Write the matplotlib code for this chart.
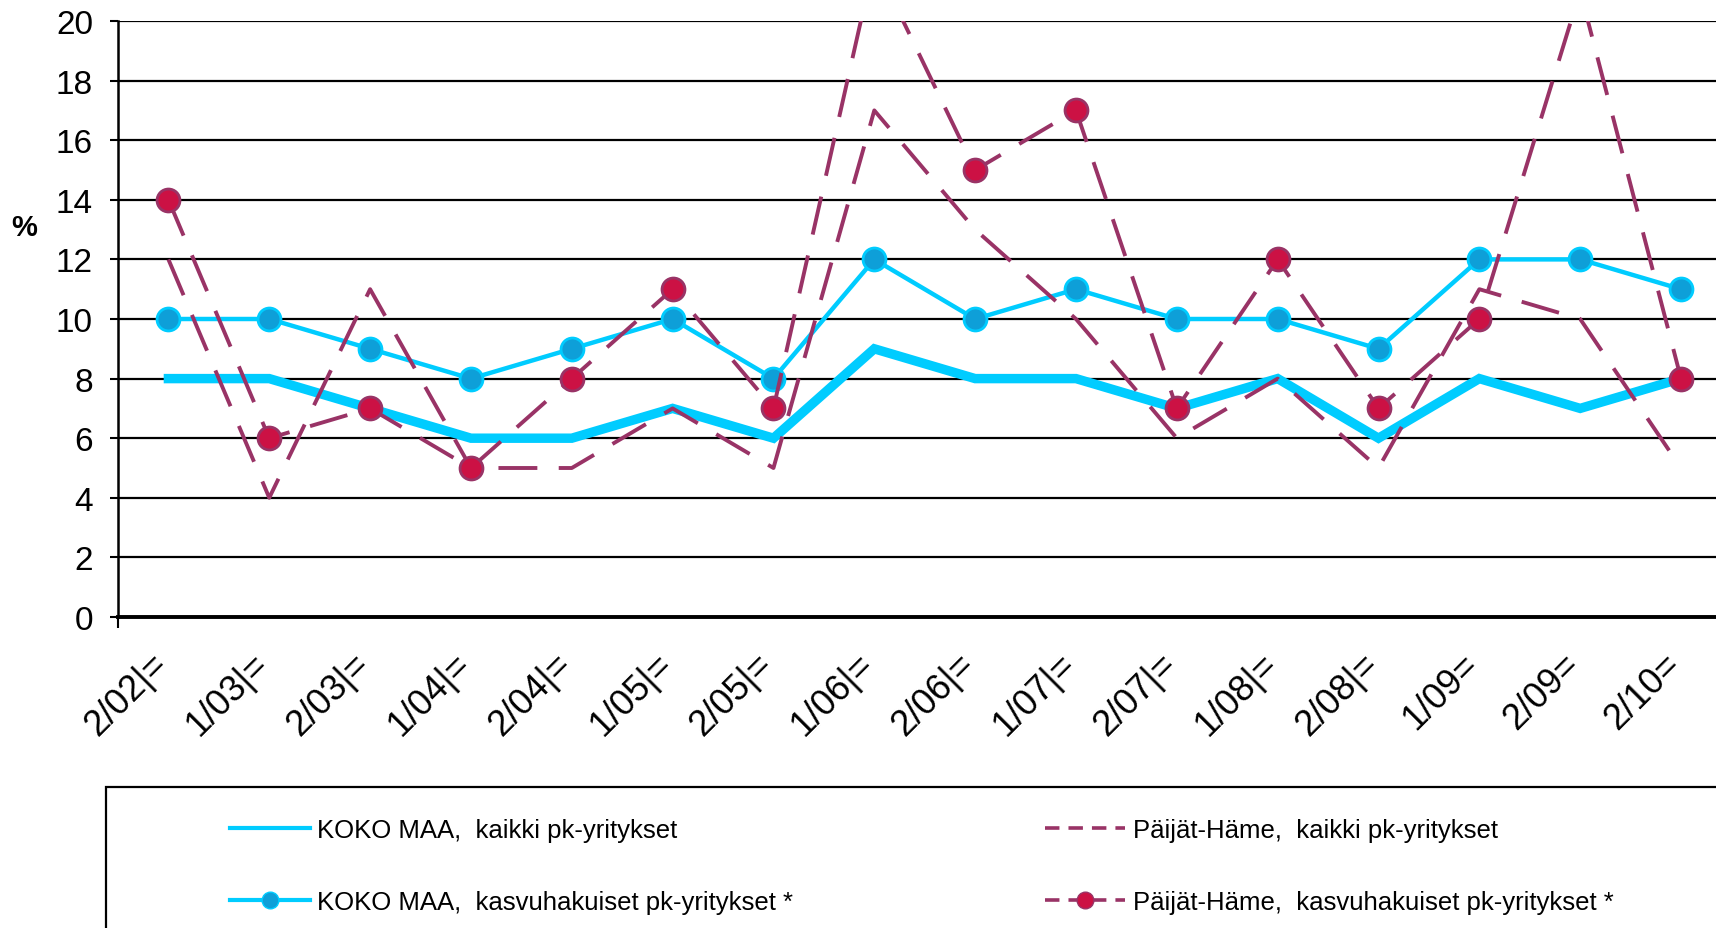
import matplotlib
matplotlib.use('Agg')
import matplotlib.pyplot as plt
from matplotlib.lines import Line2D
from matplotlib.patches import Rectangle
from matplotlib.transforms import ScaledTranslation

plt.rcParams['font.family'] = ['Liberation Sans', 'DejaVu Sans']

# jaksot (puolivuosi/vuosi)
periods = ['2/02|=', '1/03|=', '2/03|=', '1/04|=', '2/04|=', '1/05|=', '2/05|=', '1/06|=',
           '2/06|=', '1/07|=', '2/07|=', '1/08|=', '2/08|=', '1/09=', '2/09=', '2/10=']

koko_kaikki = [8, 8, 7, 6, 6, 7, 6, 9, 8, 8, 7, 8, 6, 8, 7, 8]
koko_kasvu = [10, 10, 9, 8, 9, 10, 8, 12, 10, 11, 10, 10, 9, 12, 12, 11]
ph_kaikki = [12, 4, 11, 5, 5, 7, 5, 17, 13, 10, 6, 8, 5, 11, 10, 5]
ph_kasvu = [14, 6, 7, 5, 8, 11, 7, 22, 15, 17, 7, 12, 7, 10, 21, 8]

labels = ['KOKO MAA,  kaikki pk-yritykset',
          'KOKO MAA,  kasvuhakuiset pk-yritykset *',
          'Päijät-Häme,  kaikki pk-yritykset',
          'Päijät-Häme,  kasvuhakuiset pk-yritykset *']

CYAN = '#00CCFF'
BLUE = '#0E9FD8'
PLUM = '#993366'
RED = '#CC1144'

fig = plt.figure(figsize=(17.16, 9.29), dpi=100)
fig.patch.set_facecolor('white')
ax = fig.add_axes([118/1716, 1 - 618/929, 1 - 118/1716, (618 - 22)/929])

x = list(range(len(periods)))
ax.plot(x, koko_kaikki, color=CYAN, lw=6.8, solid_joinstyle='miter', zorder=3)
ax.plot(x, koko_kasvu, color=CYAN, lw=3.2, marker='o', ms=16.5,
        markerfacecolor=BLUE, markeredgecolor=CYAN, markeredgewidth=2, zorder=4)
ax.plot(x, ph_kaikki, color=PLUM, lw=2.8, dashes=(10, 5.5), zorder=5)
ax.plot(x, ph_kasvu, color=PLUM, lw=2.8, dashes=(10, 5.5), marker='o', ms=16.5,
        markerfacecolor=RED, markeredgecolor=PLUM, markeredgewidth=2, zorder=6)

ax.set_xlim(-0.5, -0.5 + (1716 - 118) / 100.84)
ax.set_ylim(0, 20)
ax.set_yticks(range(0, 21, 2))
ax.tick_params(axis='y', labelsize=24, length=6, width=1.5, pad=12, direction='out')
ax.set_xticks(x)
ax.set_xticklabels(periods, rotation=45, ha='right', va='center',
                   rotation_mode='anchor', fontsize=26)
ax.tick_params(axis='x', length=0, pad=30)
shift = ScaledTranslation(-6/100, 0, fig.dpi_scale_trans)
for lab in ax.get_xticklabels():
    lab.set_transform(lab.get_transform() + shift)
ax.set_xticks([-0.5], minor=True)
ax.tick_params(axis='x', which='minor', length=8, width=1.5, direction='out')

ax.yaxis.grid(True, color='black', lw=1.6)
ax.set_axisbelow(True)
for s in ['top', 'right']:
    ax.spines[s].set_visible(False)
ax.spines['left'].set_linewidth(1.8)
ax.spines['bottom'].set_linewidth(2.8)
ax.spines['bottom'].set_zorder(7)

fig.text(24/1716, 1 - 228/929, '%', fontsize=21, fontweight='bold', ha='center', va='center')

# legend box (cut off at the right and bottom like the original)
fig.patches.append(Rectangle((106/1716, -0.05), 1.0, 0.05 + 1 - 788/929,
                             transform=fig.transFigure, fill=False,
                             edgecolor='black', lw=1.6))

handles = [
    Line2D([], [], color=CYAN, lw=3.0),
    Line2D([], [], color=CYAN, lw=3.0, marker='o', ms=12,
           markerfacecolor=BLUE, markeredgecolor=CYAN),
    Line2D([], [], color=PLUM, lw=2.6, dashes=(4, 2.5)),
    Line2D([], [], color=PLUM, lw=2.6, dashes=(4, 2.5), marker='o', ms=12,
           markerfacecolor=RED, markeredgecolor=PLUM),
]
fig.legend(handles, labels, ncol=2, frameon=False, fontsize=18.5,
           loc='upper left', bbox_to_anchor=(230/1716, 1 - 819/929),
           borderpad=0, borderaxespad=0, handlelength=3.1, handletextpad=0.3,
           columnspacing=9.8, labelspacing=1.85)

fig.savefig('out.png', dpi=100, facecolor='white')
